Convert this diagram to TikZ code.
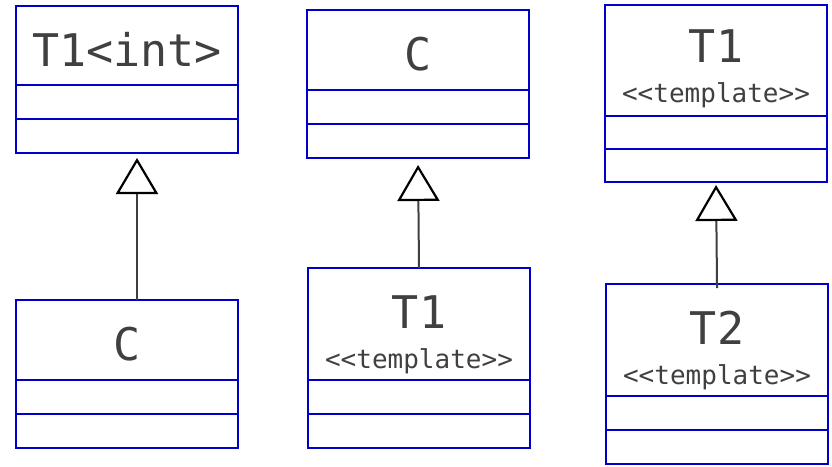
\documentclass[tikz,border=0pt]{standalone}
\usepackage{fontspec}
\setmonofont{DejaVu Sans Mono}
\usetikzlibrary{arrows.meta, positioning}
\definecolor{umlblue}{RGB}{0,0,200}
\definecolor{umltext}{RGB}{64,64,64}
\newcommand{\stereo}[1]{{\fontsize{26}{40}\selectfont #1}}

\tikzset{
    box/.style={draw=umlblue, line width=2.5pt, outer sep=0pt, inner sep=0pt, minimum width=222pt},
    head/.style n args={2}{box, text=umltext, font=\ttfamily\fontsize{45}{40}\selectfont, align=center, text height=#1, text depth=#2},
    part/.style={box, minimum height=#1},
    part/.default=34pt,
    inherit/.style={draw=umltext, line width=2pt, -{Triangle[open, length=36pt, width=42pt, line width=2.2pt, color=black]}}
}

\begin{document}
\begin{tikzpicture}[x=1pt, y=-1pt]
            \useasboundingbox (0,0) rectangle (832,466);

            \node[head={60pt}{19pt}, anchor=north west] (t1int) at (16,6) {T1<int>};
            \node[part, below=0pt of t1int] (t1int-a) {};
            \node[part, below=0pt of t1int-a] (t1int-b) {};

            \node[head={60pt}{20pt}, anchor=north west] (c1) at (16,300) {C};
            \node[part, below=0pt of c1] (c1-a) {};
            \node[part, below=0pt of c1-a] (c1-b) {};

            \node[head={60pt}{20pt}, anchor=north west] (c2) at (307,10) {C};
            \node[part, below=0pt of c2] (c2-a) {};
            \node[part, below=0pt of c2-a] (c2-b) {};

            \node[head={100pt}{12pt}, anchor=north west] (t1) at (308,268) {T1\\\stereo{<<template>>}};
            \node[part, below=0pt of t1] (t1-a) {};
            \node[part, below=0pt of t1-a] (t1-b) {};

            \node[head={97pt}{14pt}, anchor=north west] (t1top) at (605,5) {T1\\\stereo{<<template>>}};
            \node[part=33pt, below=0pt of t1top] (t1top-a) {};
            \node[part=33pt, below=0pt of t1top-a] (t1top-b) {};

            \node[head={100pt}{12pt}, anchor=north west] (t2) at (606,284) {T2\\\stereo{<<template>>}};
            \node[part, below=0pt of t2] (t2-a) {};
            \node[part, below=0pt of t2-a] (t2-b) {};

            \draw[inherit, shorten >=5pt] ([xshift=10pt]c1.north) -- ([xshift=10pt]t1int-b.south);
            \draw[inherit, shorten >=7pt] (t1.north) -- (c2-b.south);
            \draw[inherit, shorten >=3pt, shorten <=-4pt] (t2.north) -- (t1top-b.south);
        \end{tikzpicture}
\end{document}
